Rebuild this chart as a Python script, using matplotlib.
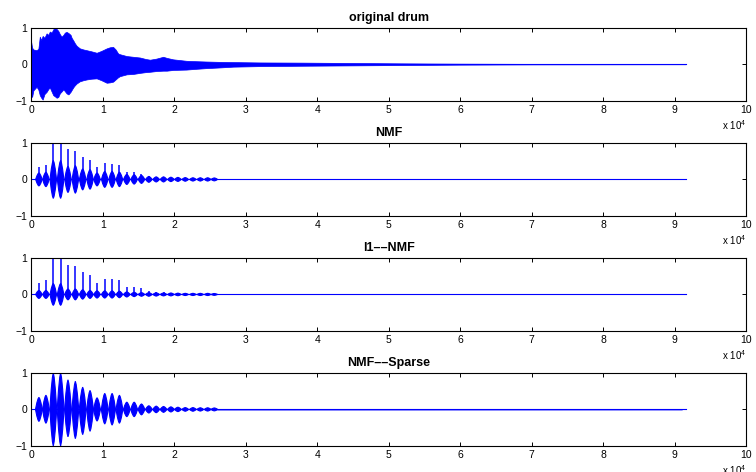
import matplotlib.pyplot as plt
import numpy as np

plt.rcParams['font.family'] = ['Liberation Sans', 'DejaVu Sans']
plt.rcParams['mathtext.default'] = 'regular'

# length of the drum signal in samples
n_samples = 91500

# envelope of the original drum (sample index, upper edge, lower edge)
drum_x = [0, 120, 300, 750, 1000, 1200, 1400, 1600, 1850, 2150, 2400, 2600, 2850, 3080,
          3300, 3550, 3780, 4000, 4240, 4500, 4700, 4940, 5200, 5500, 5650, 5900, 6100,
          6350, 6800, 7300, 7750, 8400, 9150, 9800, 10550, 11000, 11450, 11800, 12150,
          12400, 13350, 14250, 15200, 16000, 16600, 17500, 18450, 18950, 19850,
          21700, 23000, 24500, 26500, 28250, 32000, 38000, 45000, 52000, 60000, 70000, 91500]
drum_up = [0.60, 0.45, 0.40, 0.38, 0.42, 0.75, 0.66, 0.77, 0.72, 0.84, 0.80, 0.89, 0.86, 0.95,
           1.00, 0.96, 0.91, 0.82, 0.75, 0.80, 0.86, 0.88, 0.85, 0.80, 0.72, 0.64, 0.57,
           0.50, 0.43, 0.40, 0.38, 0.35, 0.31, 0.36, 0.43, 0.46, 0.47, 0.40, 0.29,
           0.27, 0.22, 0.20, 0.18, 0.14, 0.12, 0.15, 0.20, 0.17, 0.13,
           0.09, 0.08, 0.07, 0.06, 0.055, 0.045, 0.04, 0.03, 0.02, 0.012, 0.006, 0.003]
drum_lo = [-0.80, -0.90, -0.72, -0.62, -0.70, -0.85, -0.92, -0.97, -0.82, -0.76, -0.68, -0.64, -0.75, -0.85,
           -0.88, -0.92, -0.90, -0.80, -0.75, -0.69, -0.74, -0.80, -0.83, -0.76, -0.71, -0.63, -0.58,
           -0.53, -0.47, -0.44, -0.42, -0.40, -0.39, -0.44, -0.51, -0.50, -0.48, -0.42, -0.36,
           -0.33, -0.28, -0.27, -0.24, -0.22, -0.21, -0.19, -0.18, -0.18, -0.16,
           -0.15, -0.13, -0.11, -0.09, -0.07, -0.055, -0.045, -0.035, -0.025, -0.015, -0.008, -0.004]

# onset positions of the separated hits
hit_pos = [1075, 2055, 3085, 4110, 5140, 6170, 7195, 8225, 9205, 10280, 11310, 12335,
           13365, 14395, 15420, 16450, 17475, 18505, 19535, 20515, 21540, 22615,
           23645, 24675, 25605]

nmf_top = [0.33, 0.39, 1.00, 0.96, 0.82, 0.77, 0.62, 0.53, 0.33, 0.44, 0.42, 0.39,
           0.21, 0.21, 0.16, 0.09, 0.07, 0.07, 0.06, 0.055, 0.05, 0.045, 0.045, 0.045, 0.04]
nmf_low = [-0.18, -0.20, -0.52, -0.52, -0.36, -0.38, -0.29, -0.27, -0.18, -0.22, -0.22, -0.20,
           -0.14, -0.13, -0.11, -0.08, -0.07, -0.07, -0.06, -0.055, -0.05, -0.045, -0.045, -0.045, -0.04]

l1_top = [0.32, 0.39, 1.00, 1.00, 0.81, 0.77, 0.61, 0.52, 0.32, 0.43, 0.41, 0.39,
          0.20, 0.20, 0.18, 0.10, 0.08, 0.07, 0.05, 0.045, 0.04, 0.04, 0.035, 0.035, 0.03]
l1_low = [-0.11, -0.11, -0.30, -0.30, -0.15, -0.15, -0.13, -0.11, -0.10, -0.10, -0.10, -0.09,
          -0.07, -0.06, -0.05, -0.05, -0.045, -0.04, -0.04, -0.035, -0.03, -0.03, -0.03, -0.03, -0.025]

sparse_top = [0.33, 0.39, 1.00, 1.00, 0.81, 0.77, 0.61, 0.52, 0.32, 0.44, 0.44, 0.39,
              0.20, 0.20, 0.15, 0.10, 0.09, 0.08, 0.07, 0.06, 0.05, 0.05, 0.045, 0.045, 0.04]
sparse_low = [-0.33, -0.38, -1.00, -1.00, -0.75, -0.80, -0.69, -0.60, -0.32, -0.40, -0.43, -0.38,
              -0.20, -0.20, -0.15, -0.10, -0.09, -0.08, -0.07, -0.06, -0.05, -0.05, -0.045, -0.045, -0.04]

# low level residue that NMF-Sparse leaves after the hits
sparse_tail_x = [26000, 91000]
sparse_tail_amp = [0.015, 0.01]

titles = ['original drum', 'NMF', 'l1\u2013\u2013NMF', 'NMF\u2013\u2013Sparse']
xtick_labels = ['0', '1', '2', '3', '4', '5', '6', '7', '8', '9', '10']

blue = (0, 0, 1)
# spindle profile of one hit, relative to its half width and peak
shape_t = np.array([-1, -0.6, -0.25, 0, 0.25, 0.6, 1])
shape_a = np.array([0, 0.55, 0.88, 1, 0.88, 0.55, 0])


def draw_hits(ax, tops, lows, spike, half_width):
    for c, top, low in zip(hit_pos, tops, lows):
        up = -low if spike else top
        xs = np.concatenate([c + shape_t * half_width, (c + shape_t * half_width)[::-1]])
        ys = np.concatenate([shape_a * up, (shape_a * low)[::-1]])
        ax.fill(xs, ys, color=blue, lw=0.8)
        if spike and top > up:
            ax.vlines(c, 0, top, color=blue, lw=1.1)


def style_axes(ax, title):
    ax.set_xlim(0, 100000)
    ax.set_ylim(-1, 1)
    ax.set_xticks(np.arange(0, 100001, 10000))
    ax.set_xticklabels(xtick_labels)
    ax.set_yticks([-1, 0, 1])
    ax.tick_params(direction='in', length=3, width=0.7, labelsize=7.5,
                   top=True, right=True, pad=3)
    for s in ax.spines.values():
        s.set_linewidth(0.8)
    ax.set_title(title, fontsize=9, fontweight='bold', pad=5)
    ax.text(1.0, -0.33, 'x 10$^{4}$', transform=ax.transAxes, ha='right',
            va='center', fontsize=7)


fig = plt.figure(figsize=(7.56, 4.72), dpi=100)
left, width, height = 0.0413, 0.9459, 0.155
bottoms = [0.7867, 0.5424, 0.2987, 0.0551]
axes = [fig.add_axes([left, b, width, height]) for b in bottoms]

# original drum
ax = axes[0]
ax.fill_between(drum_x, drum_lo, drum_up, color=blue, lw=0.5)
ax.plot([0, n_samples], [0, 0], color=blue, lw=0.8)
style_axes(ax, titles[0])

# NMF
ax = axes[1]
ax.plot([0, n_samples], [0, 0], color=blue, lw=0.8)
draw_hits(ax, nmf_top, nmf_low, True, 460)
style_axes(ax, titles[1])

# l1-NMF
ax = axes[2]
ax.plot([0, n_samples], [0, 0], color=blue, lw=0.8)
draw_hits(ax, l1_top, l1_low, True, 460)
style_axes(ax, titles[2])

# NMF-Sparse
ax = axes[3]
ax.plot([0, n_samples], [0, 0], color=blue, lw=0.8)
ax.fill_between(sparse_tail_x, [-a for a in sparse_tail_amp], sparse_tail_amp,
                color=blue, lw=0.3, alpha=0.6)
draw_hits(ax, sparse_top, sparse_low, False, 480)
style_axes(ax, titles[3])

fig.savefig('out.png', dpi=100)
